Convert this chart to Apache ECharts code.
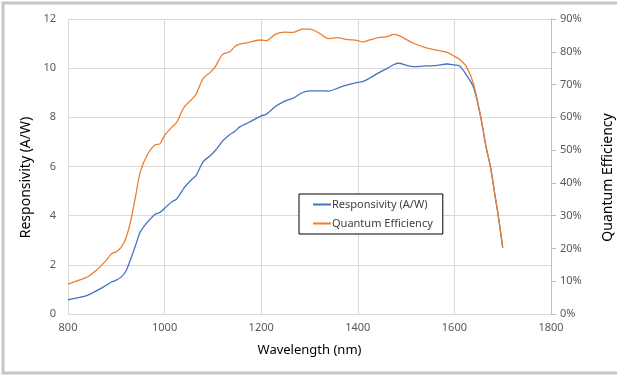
<!DOCTYPE html>
<html>
<head>
<meta charset="utf-8">
<script src="https://cdn.jsdelivr.net/npm/echarts@6/dist/echarts.min.js"></script>
<style>
  html, body { margin: 0; padding: 0; background: #fff; }
  #chart { width: 617px; height: 376px; }
</style>
</head>
<body>
<div id="chart"></div>
<script>
// wavelength (nm) sample points shared by both curves
const wavelengths = [800, 820, 840, 860, 880, 890, 900, 910, 920, 930, 940, 950, 965, 980, 990,
  1000, 1015, 1025, 1040, 1055, 1065, 1080, 1095, 1105, 1120, 1135, 1145, 1155, 1175, 1200,
  1210, 1230, 1250, 1265, 1285, 1300, 1320, 1340, 1360, 1375, 1400, 1410, 1425, 1445, 1460,
  1475, 1485, 1500, 1515, 1540, 1560, 1585, 1600, 1610, 1625, 1640, 1655, 1665, 1675, 1685,
  1690, 1700];

// A/W, left axis
const responsivity = [0.58, 0.66, 0.76, 0.95, 1.18, 1.30, 1.38, 1.50, 1.75, 2.25, 2.80, 3.35, 3.75, 4.05, 4.13,
  4.30, 4.57, 4.68, 5.12, 5.45, 5.63, 6.20, 6.45, 6.65, 7.03, 7.30, 7.42, 7.60, 7.80, 8.06,
  8.12, 8.45, 8.67, 8.77, 9.00, 9.08, 9.08, 9.07, 9.20, 9.30, 9.42, 9.45, 9.60, 9.83, 9.98,
  10.15, 10.20, 10.12, 10.06, 10.09, 10.10, 10.17, 10.13, 10.10, 9.72, 9.20, 7.95, 6.85, 5.95, 4.70,
  4.10, 2.70];

// percent, right axis
const quantumEff = [9.1, 10.2, 11.3, 13.5, 16.5, 18.4, 19.0, 20.3, 23.2, 28.5, 36.0, 43.5, 48.8, 51.6, 51.9,
  54.5, 57.0, 58.5, 63.0, 65.3, 67.0, 71.9, 73.8, 75.5, 79.2, 80.0, 81.5, 82.3, 82.9, 83.6,
  83.4, 85.4, 86.0, 85.9, 86.9, 86.9, 85.7, 84.0, 84.3, 83.8, 83.4, 83.0, 83.6, 84.4, 84.6,
  85.3, 84.9, 83.8, 82.6, 81.3, 80.6, 79.8, 78.6, 77.8, 75.4, 70.0, 59.8, 51.4, 44.6, 35.3,
  30.8, 20.3];

const FONT = 'Noto Sans';
const chart = echarts.init(document.getElementById('chart'), null, { renderer: 'canvas' });

chart.setOption({
  backgroundColor: '#fff',
  animation: false,
  textStyle: { fontFamily: FONT },
  graphic: [{
    type: 'rect',
    shape: { x: 3, y: 3, width: 630, height: 370 },
    style: { fill: 'none', stroke: '#c6c6c6', lineWidth: 3 },
    silent: true
  }],
  grid: { left: 68, right: 66, top: 19, bottom: 62, outerBoundsMode: 'none' },
  legend: {
    left: 299, top: 194,
    orient: 'vertical',
    backgroundColor: '#fff',
    borderColor: '#000', borderWidth: 1,
    padding: [5, 10, 5, 14],
    itemGap: 8,
    itemWidth: 18, itemHeight: 2,
    icon: 'rect',
    textStyle: { fontFamily: FONT, fontSize: 11, color: '#404040', padding: [0, 0, 0, -4] },
    data: ['Responsivity (A/W)', 'Quantum Efficiency']
  },
  xAxis: {
    type: 'value', min: 800, max: 1800, interval: 200,
    name: 'Wavelength (nm)', nameLocation: 'middle', nameGap: 30,
    nameTextStyle: { color: '#000', fontSize: 13, fontFamily: FONT },
    axisLine: { lineStyle: { color: '#d9d9d9' } },
    axisTick: { show: false },
    axisLabel: { color: '#595959', fontSize: 11, margin: 8, formatter: v => String(v) },
    splitLine: { show: true, lineStyle: { color: '#d9d9d9' } }
  },
  yAxis: [{
    type: 'value', min: 0, max: 12, interval: 2,
    name: 'Responsivity (A/W)', nameLocation: 'middle', nameGap: 25, nameRotate: 90,
    nameTextStyle: { color: '#000', fontSize: 14, fontFamily: FONT, padding: [0, 22, 0, 0] },
    axisLine: { show: false },
    axisTick: { show: false },
    axisLabel: { color: '#595959', fontSize: 11, margin: 12 },
    splitLine: { lineStyle: { color: '#d9d9d9' } }
  }, {
    type: 'value', min: 0, max: 90, interval: 10, position: 'right',
    name: 'Quantum Efficiency', nameLocation: 'middle', nameGap: 50, nameRotate: 90,
    nameTextStyle: { color: '#000', fontSize: 14, fontFamily: FONT, padding: [0, 22, 0, 0] },
    axisLine: { show: true, lineStyle: { color: '#bfbfbf' } },
    axisTick: { show: true, length: 5, lineStyle: { color: '#bfbfbf' } },
    axisLabel: { color: '#595959', fontSize: 11, margin: 9, formatter: '{value}%' },
    splitLine: { show: false }
  }],
  series: [{
    name: 'Responsivity (A/W)',
    type: 'line', yAxisIndex: 0,
    showSymbol: false, smooth: 0.3,
    color: '#4472c4',
    lineStyle: { width: 1.3, color: '#4472c4' },
    data: wavelengths.map((w, i) => [w, responsivity[i]])
  }, {
    name: 'Quantum Efficiency',
    type: 'line', yAxisIndex: 1,
    showSymbol: false, smooth: 0.3,
    color: '#ed7d31',
    lineStyle: { width: 1.3, color: '#ed7d31' },
    data: wavelengths.map((w, i) => [w, quantumEff[i]])
  }]
});
</script>
</body>
</html>
